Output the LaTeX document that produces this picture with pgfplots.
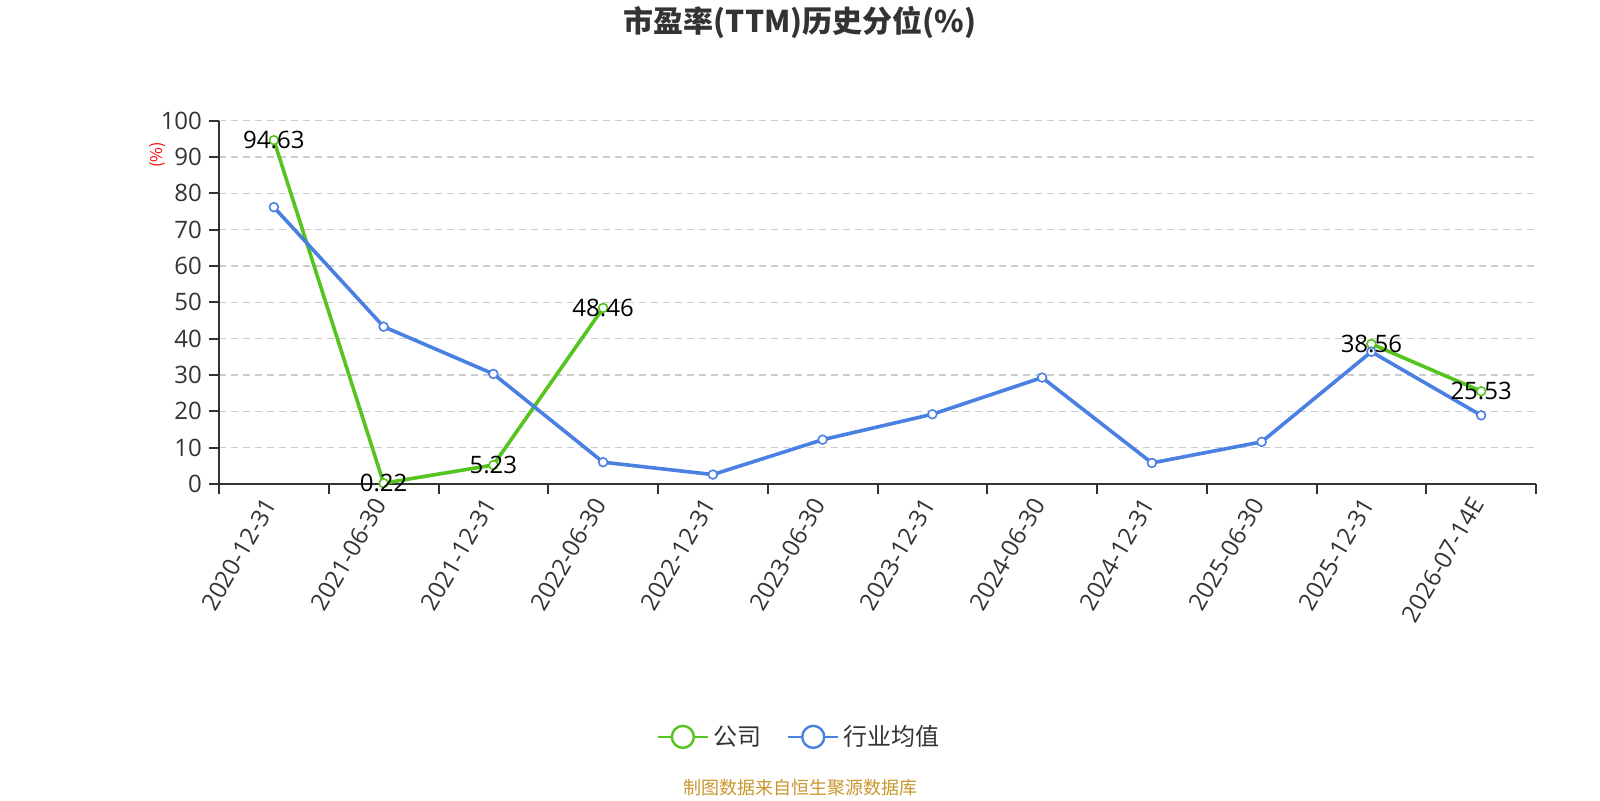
\documentclass[border=0pt]{standalone}
\usepackage{fontspec}
\setmainfont{Open Sans}
\newfontfamily\cjk{Noto Sans CJK SC}
\usepackage{pgfplots}
\pgfplotsset{compat=1.18}
\definecolor{cgreen}{RGB}{86,196,30}
\definecolor{cblue}{RGB}{74,128,226}
\definecolor{ctext}{RGB}{51,51,51}
\definecolor{cgrid}{RGB}{204,204,204}
\definecolor{csrc}{RGB}{200,150,45}
\begin{document}
\begin{tikzpicture}
\useasboundingbox (0,0) rectangle (800pt,400pt);
\begin{axis}[
  at={(109.5pt,158pt)}, anchor=south west,
  scale only axis, width=658.5pt, height=181.65pt,
  xmin=-0.5, xmax=11.5, ymin=0, ymax=100,
  axis x line=bottom, axis y line=left,
  axis line style={-, ctext, line width=1pt},
  /pgf/number format/assume math mode=true,
  xtick={-0.5,0.5,...,11.5},
  x tick label as interval,
  xticklabels={2020-12-31,2021-06-30,2021-12-31,2022-06-30,2022-12-31,2023-06-30,2023-12-31,2024-06-30,2024-12-31,2025-06-30,2025-12-31,2026-07-14E},
  ytick={0,10,...,100},
  ymajorgrids,
  grid style={cgrid, dash pattern=on 3.5pt off 2.5pt, line width=0.75pt},
  tick align=outside, major tick length=5pt,
  tick style={ctext, line width=1pt},
  xticklabel style={rotate=60, anchor=east, font=\fontsize{12}{14}\selectfont, text=ctext},
  yticklabel style={font=\fontsize{12}{14}\selectfont, text=ctext},
  clip=false,
  legend style={at={(0.4412,-0.696)}, anchor=center, draw=none, fill=none,
    font=\cjk\fontsize{12}{14}\selectfont, text=ctext, legend columns=2,
    /tikz/every even column/.append style={column sep=11pt}},
]
\addplot[cgreen, line width=1.8pt, unbounded coords=jump,
  mark=*, mark size=2.2pt, mark options={fill=white, draw=cgreen, line width=0.8pt},
  legend image code/.code={\draw[line width=1.2pt] (0pt,0pt) -- (25pt,0pt); \draw[fill=white, line width=1.2pt] (12.5pt,0pt) circle (5.5pt);}]
  coordinates {(0,94.63) (1,0.22) (2,5.23) (3,48.46) (4,nan) (10,38.56) (11,25.53)};
\addlegendentry{公司}
\addplot[cblue, line width=1.8pt,
  mark=*, mark size=2.2pt, mark options={fill=white, draw=cblue, line width=0.8pt},
  legend image code/.code={\draw[line width=1.2pt] (0pt,0pt) -- (25pt,0pt); \draw[fill=white, line width=1.2pt] (12.5pt,0pt) circle (5.5pt);}]
  coordinates {(0,76.2) (1,43.3) (2,30.3) (3,6.0) (4,2.6) (5,12.2) (6,19.2) (7,29.3) (8,5.8) (9,11.6) (10,36.4) (11,18.9)};
\addlegendentry{行业均值}
\addplot[draw=none, mark=none, forget plot, unbounded coords=jump,
  nodes near coords,
  every node near coord/.style={anchor=center, inner sep=0pt, font=\fontsize{12}{14}\selectfont, text=black,
    /pgf/number format/.cd, fixed, fixed zerofill, precision=2}]
  coordinates {(0,94.63) (1,0.22) (2,5.23) (3,48.46) (4,nan) (10,38.56) (11,25.53)};
\end{axis}
\node[font=\cjk\bfseries\fontsize{15}{17}\selectfont, text=ctext] at (400pt,388.8pt) {市盈率(TTM)历史分位(\%)};
\node[font=\cjk\fontsize{8}{9}\selectfont, text=red, rotate=90] at (79pt,322.5pt) {(\%)};
\node[font=\cjk\fontsize{9}{10}\selectfont, text=csrc] at (400pt,6pt) {制图数据来自恒生聚源数据库};
\end{tikzpicture}
\end{document}
